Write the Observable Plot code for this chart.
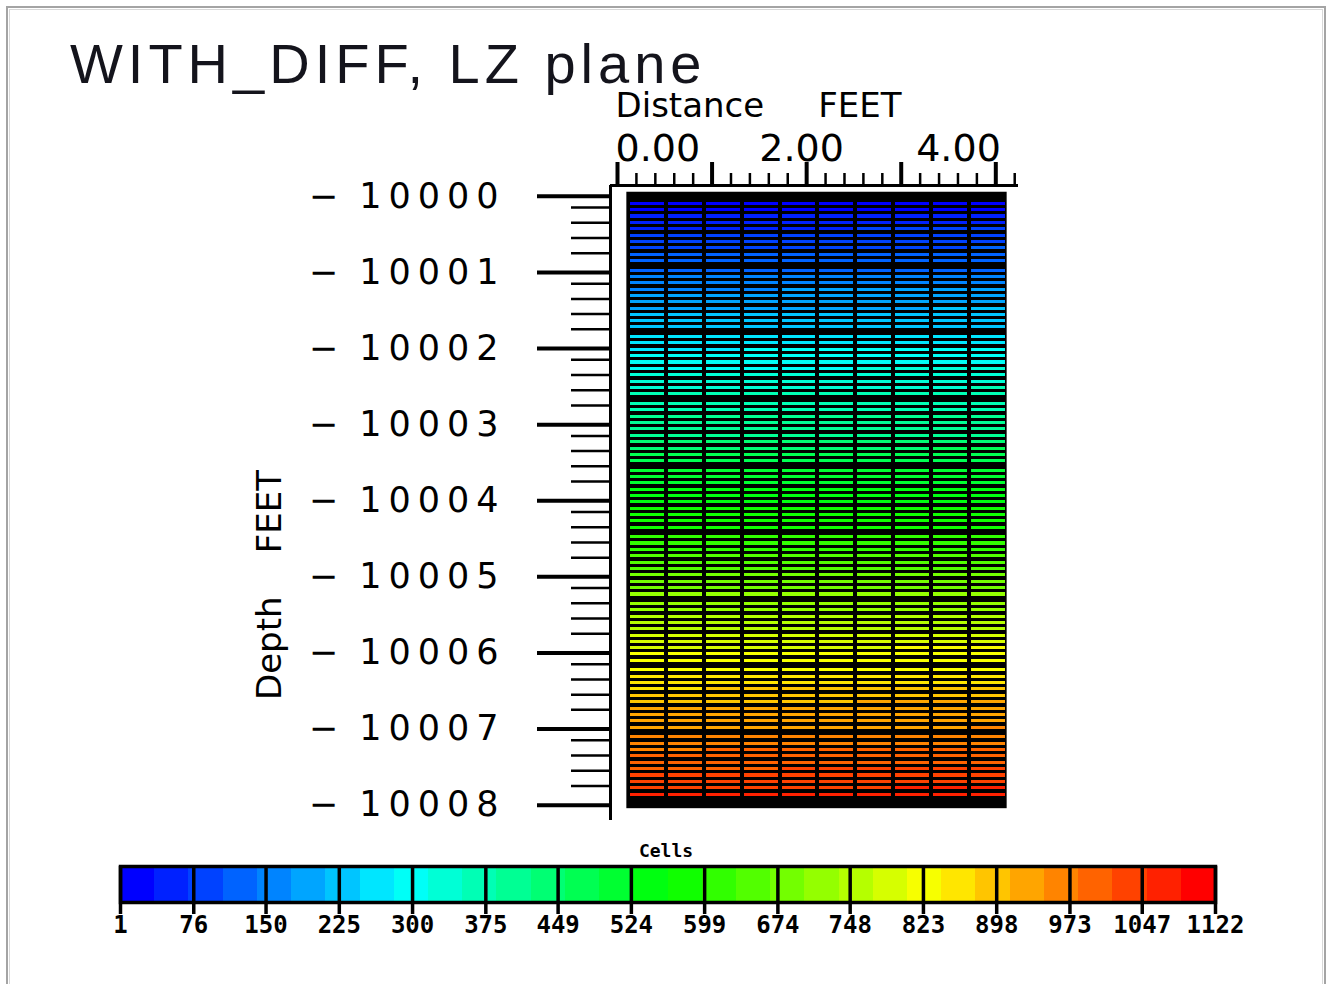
<!DOCTYPE html>
<html>
<head>
<meta charset="utf-8">
<script src="https://cdn.jsdelivr.net/npm/d3@7"></script>
<script src="https://cdn.jsdelivr.net/npm/@observablehq/plot@0.6"></script>
<style>
  body { margin: 0; background: #fff; }
  #page { position: relative; width: 1327px; height: 984px; overflow: hidden; background: #fff; }
  #border { position: absolute; left: 6px; top: 6px; width: 1320px; height: 990px; box-sizing: border-box;
            border: 2px solid #a4a4a4; outline: 1px solid #d8d8d8; outline-offset: -4px; }
  #title { position: absolute; left: 70px; top: 46px; margin: 0; font: 400 56px/36px "Liberation Sans", Arial, sans-serif;
           letter-spacing: 5px; color: #14141c; white-space: pre; }
  #heat { position: absolute; left: 0; top: 0; }
  #legend { position: absolute; left: 0; top: 830px; }
  #heat g[aria-label="y-axis tick label"] { letter-spacing: 7px; }
</style>
</head>
<body>
<div id="page">
  <div id="border"></div>
  <div id="title">WITH_DIFF, LZ plane</div>
  <div id="heat"></div>
  <div id="legend"></div>
</div>
<script>
// Column boundaries along the distance axis (feet)
const colEdges = [0.12, 0.52, 0.92, 1.32, 1.72, 2.12, 2.52, 2.92, 3.32, 3.72, 4.12];

// Layer boundaries along the depth axis (feet); each layer holds ten sub-rows
const layerBounds = [10000.13, 10001.01, 10001.88, 10002.76, 10003.64, 10004.51, 10005.39, 10006.26, 10007.14, 10008.02];

// Cell values, one array per layer, ten sub-rows of ten columns each
const layer1 = [
  [2, 3, 4, 5, 6, 7, 8, 9, 10, 11],
  [14, 15, 16, 17, 18, 19, 20, 21, 22, 23],
  [38, 39, 40, 41, 42, 43, 44, 45, 46, 47],
  [50, 51, 52, 53, 54, 55, 56, 57, 58, 59],
  [64, 65, 66, 67, 68, 70, 72, 73, 74, 75],
  [76, 77, 78, 79, 80, 81, 82, 83, 84, 85],
  [87, 88, 89, 90, 91, 92, 93, 94, 95, 96],
  [97, 98, 99, 100, 101, 102, 103, 104, 105, 107],
  [110, 111, 112, 113, 114, 115, 116, 117, 118, 119],
  [122, 123, 124, 125, 126, 127, 128, 129, 130, 131]
];
const layer2 = [
  [130, 131, 132, 133, 134, 135, 136, 137, 138, 139],
  [143, 144, 145, 146, 147, 148, 149, 150, 151, 152],
  [155, 156, 157, 158, 159, 160, 161, 162, 163, 164],
  [170, 171, 172, 174, 177, 178, 179, 180, 181, 182],
  [184, 185, 186, 187, 188, 189, 190, 191, 192, 193],
  [191, 192, 193, 194, 195, 196, 197, 198, 199, 200],
  [202, 203, 204, 205, 206, 207, 208, 210, 212, 213],
  [216, 217, 218, 219, 220, 221, 222, 223, 224, 225],
  [227, 228, 229, 230, 231, 232, 233, 234, 235, 236],
  [236, 237, 238, 239, 240, 241, 242, 243, 244, 245]
];
const layer3 = [
  [250, 251, 252, 253, 254, 255, 256, 257, 258, 259],
  [262, 263, 264, 265, 266, 267, 268, 269, 270, 271],
  [276, 278, 280, 282, 283, 284, 285, 286, 287, 288],
  [290, 291, 292, 293, 294, 295, 296, 297, 298, 299],
  [301, 302, 303, 304, 305, 306, 307, 308, 309, 310],
  [309, 310, 311, 312, 313, 315, 317, 318, 319, 320],
  [324, 325, 326, 327, 328, 329, 330, 331, 332, 333],
  [332, 333, 334, 335, 336, 337, 338, 339, 340, 341],
  [342, 343, 344, 345, 346, 347, 348, 349, 350, 353],
  [356, 357, 358, 359, 360, 361, 362, 363, 364, 365]
];
const layer4 = [
  [365, 366, 367, 368, 369, 370, 371, 372, 373, 374],
  [375, 376, 377, 378, 379, 380, 381, 382, 383, 384],
  [389, 390, 391, 392, 393, 394, 395, 396, 397, 398],
  [397, 398, 399, 400, 401, 402, 403, 404, 405, 406],
  [405, 406, 407, 408, 409, 410, 411, 412, 413, 414],
  [411, 412, 413, 414, 415, 416, 417, 418, 419, 420],
  [426, 427, 428, 429, 430, 431, 432, 433, 434, 435],
  [447, 448, 449, 450, 451, 452, 453, 455, 457, 458],
  [462, 463, 464, 465, 466, 467, 468, 469, 470, 471],
  [474, 475, 476, 477, 478, 479, 480, 481, 482, 483]
];
const layer5 = [
  [493, 494, 495, 496, 497, 498, 499, 500, 501, 502],
  [502, 503, 504, 505, 506, 507, 508, 509, 510, 511],
  [513, 514, 515, 516, 517, 518, 519, 520, 521, 522],
  [529, 530, 531, 532, 533, 534, 535, 536, 537, 538],
  [538, 539, 540, 541, 542, 543, 544, 545, 546, 547],
  [550, 551, 552, 553, 554, 555, 556, 557, 558, 559],
  [564, 565, 566, 567, 568, 569, 570, 571, 572, 573],
  [572, 573, 574, 575, 576, 577, 578, 579, 580, 581],
  [579, 580, 581, 582, 583, 584, 585, 586, 587, 588],
  [586, 587, 588, 589, 590, 591, 592, 593, 594, 595]
];
const layer6 = [
  [599, 600, 601, 602, 603, 604, 605, 606, 607, 608],
  [609, 610, 611, 612, 613, 614, 615, 616, 617, 618],
  [620, 621, 622, 623, 624, 625, 626, 627, 628, 629],
  [634, 635, 636, 637, 638, 639, 640, 641, 642, 643],
  [645, 646, 647, 648, 649, 650, 651, 652, 653, 654],
  [655, 656, 657, 658, 659, 660, 661, 662, 663, 664],
  [668, 669, 670, 671, 672, 673, 674, 675, 676, 677],
  [679, 680, 681, 682, 683, 684, 685, 686, 687, 688],
  [690, 691, 692, 693, 694, 695, 696, 697, 698, 699],
  [703, 704, 705, 706, 707, 708, 709, 710, 711, 712]
];
const layer7 = [
  [714, 715, 716, 717, 718, 719, 720, 721, 722, 723],
  [726, 727, 728, 729, 730, 731, 732, 733, 734, 735],
  [739, 740, 741, 742, 743, 744, 745, 746, 747, 748],
  [750, 751, 752, 753, 754, 755, 756, 757, 758, 759],
  [760, 761, 762, 763, 764, 765, 766, 767, 768, 769],
  [774, 775, 776, 777, 778, 779, 780, 781, 782, 783],
  [786, 787, 788, 789, 790, 791, 792, 793, 794, 795],
  [797, 798, 799, 800, 801, 802, 804, 807, 808, 809],
  [812, 813, 814, 815, 816, 817, 818, 819, 820, 821],
  [822, 823, 824, 825, 826, 827, 828, 829, 830, 831]
];
const layer8 = [
  [830, 831, 832, 833, 834, 835, 836, 837, 838, 839],
  [844, 845, 846, 847, 848, 849, 850, 851, 852, 853],
  [856, 857, 858, 859, 860, 861, 862, 863, 864, 865],
  [874, 876, 877, 878, 879, 880, 881, 882, 883, 884],
  [887, 888, 889, 890, 891, 892, 893, 894, 895, 896],
  [902, 903, 904, 905, 906, 908, 912, 913, 914, 915],
  [918, 919, 920, 921, 922, 923, 924, 925, 926, 927],
  [927, 928, 929, 930, 931, 932, 933, 934, 935, 936],
  [932, 933, 934, 935, 936, 937, 938, 939, 940, 941],
  [938, 939, 940, 941, 942, 943, 944, 945, 946, 948]
];
const layer9 = [
  [952, 953, 954, 955, 956, 957, 958, 959, 960, 961],
  [962, 963, 964, 965, 966, 967, 968, 969, 970, 971],
  [980, 981, 982, 983, 984, 985, 986, 987, 988, 989],
  [992, 993, 994, 995, 996, 997, 998, 999, 1000, 1001],
  [1002, 1003, 1004, 1005, 1006, 1007, 1008, 1009, 1010, 1011],
  [1013, 1014, 1015, 1016, 1018, 1019, 1020, 1021, 1022, 1023],
  [1027, 1028, 1029, 1030, 1031, 1032, 1033, 1034, 1035, 1036],
  [1036, 1037, 1038, 1039, 1040, 1041, 1042, 1043, 1044, 1045],
  [1045, 1046, 1047, 1048, 1049, 1050, 1051, 1053, 1054, 1055],
  [1060, 1061, 1062, 1063, 1064, 1065, 1066, 1067, 1068, 1069]
];
const layers = [layer1, layer2, layer3, layer4, layer5, layer6, layer7, layer8, layer9];

// Axis ticks and labels
const xMajorTicks = [0, 1, 2, 3, 4];
const xLabelTicks = [0, 2, 4];
const yMajorTicks = [10000, 10001, 10002, 10003, 10004, 10005, 10006, 10007, 10008];
const legendTicks = [1, 76, 150, 225, 300, 375, 449, 524, 599, 674, 748, 823, 898, 973, 1047, 1122];

const xMinorTicks = d3.range(1, 22).map(i => i / 5).filter(v => !Number.isInteger(v));
const yMinorTicks = d3.range(1, 40).map(i => 10000 + i / 5).filter(v => Math.abs(v - Math.round(v)) > 1e-6);

// Rainbow palette quantised into 32 steps, blue (low) to red (high)
const nSteps = 32;
const [vMin, vMax] = [legendTicks[0], legendTicks[legendTicks.length - 1]];
const palette = d3.range(nSteps).map(k => d3.hsl(240 * (1 - k / (nSteps - 1)), 1, 0.5).formatHex());
const thresholds = d3.range(1, nSteps).map(k => vMin + (vMax - vMin) * k / nSteps);
const colorScale = {type: "threshold", domain: thresholds, range: palette};

// Flatten layers into rectangles: each layer is split into ten sub-rows,
// with half a sub-row left dark as the break between layers
const cells = layers.flatMap((rows, l) => {
  const top = layerBounds[l];
  const pitch = (layerBounds[l + 1] - top) / 10.5;
  return rows.flatMap((vals, i) => vals.map((value, c) => ({
    x1: colEdges[c], x2: colEdges[c + 1],
    y1: top + i * pitch, y2: top + (i + 1) * pitch,
    value
  })));
});
const gridBounds = [{
  x1: colEdges[0], x2: colEdges[colEdges.length - 1],
  y1: layerBounds[0], y2: layerBounds[layerBounds.length - 1]
}];

const xDomain = [-0.074, 4.24];
const yDomain = [9999.91, 10008.254];
const sans = "DejaVu Sans";

const heat = Plot.plot({
  width: 1327,
  height: 840,
  marginLeft: 610,
  marginRight: 309,
  marginTop: 185,
  marginBottom: 20,
  style: {background: "transparent", overflow: "visible"},
  x: {domain: xDomain, axis: null},
  y: {domain: yDomain, reverse: true, axis: null},
  color: colorScale,
  marks: [
    Plot.rect(gridBounds, {x1: "x1", x2: "x2", y1: "y1", y2: "y2", fill: "black",
      insetTop: -10, insetBottom: -6, insetLeft: -2, insetRight: 0}),
    Plot.rect(cells, {x1: "x1", x2: "x2", y1: "y1", y2: "y2", fill: "value",
      insetLeft: 2, insetRight: 2, insetBottom: 3.3, shapeRendering: "crispEdges"}),
    Plot.ruleY([yDomain[0]], {stroke: "black", strokeWidth: 3}),
    Plot.ruleX([xDomain[0]], {stroke: "black", strokeWidth: 3}),
    // top distance axis
    Plot.axisX(xMinorTicks, {anchor: "top", tickSize: 13, strokeWidth: 2.5, tickFormat: () => ""}),
    Plot.axisX(xMajorTicks, {anchor: "top", tickSize: 24, strokeWidth: 4, tickFormat: () => ""}),
    Plot.axisX([xLabelTicks[0]], {anchor: "top", tickSize: 0, tickPadding: 25, textAnchor: "start", dx: -2,
      tickFormat: d3.format(".2f"), fontSize: 38, fontFamily: sans, fill: "black"}),
    Plot.axisX([xLabelTicks[1]], {anchor: "top", tickSize: 0, tickPadding: 25, textAnchor: "middle", dx: -5,
      tickFormat: d3.format(".2f"), fontSize: 38, fontFamily: sans, fill: "black"}),
    Plot.axisX([xLabelTicks[2]], {anchor: "top", tickSize: 0, tickPadding: 25, textAnchor: "end", dx: 5,
      tickFormat: d3.format(".2f"), fontSize: 38, fontFamily: sans, fill: "black"}),
    // left depth axis
    Plot.axisY(yMinorTicks, {anchor: "left", tickSize: 39, strokeWidth: 2.5, tickFormat: () => ""}),
    Plot.axisY(yMajorTicks, {anchor: "left", tickSize: 73, strokeWidth: 4, tickPadding: 32, dy: 4,
      tickFormat: d => `\u2212\u2009${d}`, fontSize: 35, fontFamily: sans, fill: "black"}),
    // axis titles
    Plot.text(["Distance\u00a0\u00a0\u00a0\u00a0\u00a0FEET"], {frameAnchor: "top-left", textAnchor: "start",
      lineAnchor: "bottom", dx: 5, dy: -69, fontSize: 34, fontFamily: sans, fill: "black"}),
    Plot.text(["Depth\u00a0\u00a0\u00a0\u00a0FEET"], {frameAnchor: "left", rotate: -90, textAnchor: "middle",
      lineAnchor: "middle", dx: -340, dy: 82, fontSize: 34, fontFamily: sans, fill: "black"})
  ]
});
document.getElementById("heat").append(heat);

// Colour bar: one block per palette step, separators at the labelled values
const steps = palette.map((color, k) => ({
  x1: k === 0 ? vMin : thresholds[k - 1],
  x2: k === nSteps - 1 ? vMax : thresholds[k],
  mid: k === 0 ? vMin : thresholds[k - 1]
}));

const legend = Plot.plot({
  width: 1327,
  height: 125,
  marginLeft: 120,
  marginRight: 112,
  marginTop: 36,
  marginBottom: 53,
  style: {background: "transparent", overflow: "visible"},
  x: {domain: [vMin, vMax], axis: null},
  y: {axis: null},
  color: colorScale,
  marks: [
    Plot.barX(steps, {x1: "x1", x2: "x2", fill: "mid", shapeRendering: "crispEdges"}),
    Plot.ruleX(legendTicks, {stroke: "black", strokeWidth: 3.5}),
    Plot.axisX(legendTicks, {anchor: "bottom", tickSize: 12, strokeWidth: 3.5, tickPadding: 1,
      tickFormat: d => `${d}`, fontSize: 24, fontWeight: "bold", fontFamily: "DejaVu Sans Mono", fill: "black"}),
    Plot.frame({stroke: "black", strokeWidth: 3.5}),
    Plot.text(["Cells"], {frameAnchor: "top", lineAnchor: "bottom", dx: -2, dy: -10,
      fontSize: 18, fontWeight: "bold", fontFamily: "DejaVu Sans Mono", fill: "black"})
  ]
});
document.getElementById("legend").append(legend);
</script>
</body>
</html>
